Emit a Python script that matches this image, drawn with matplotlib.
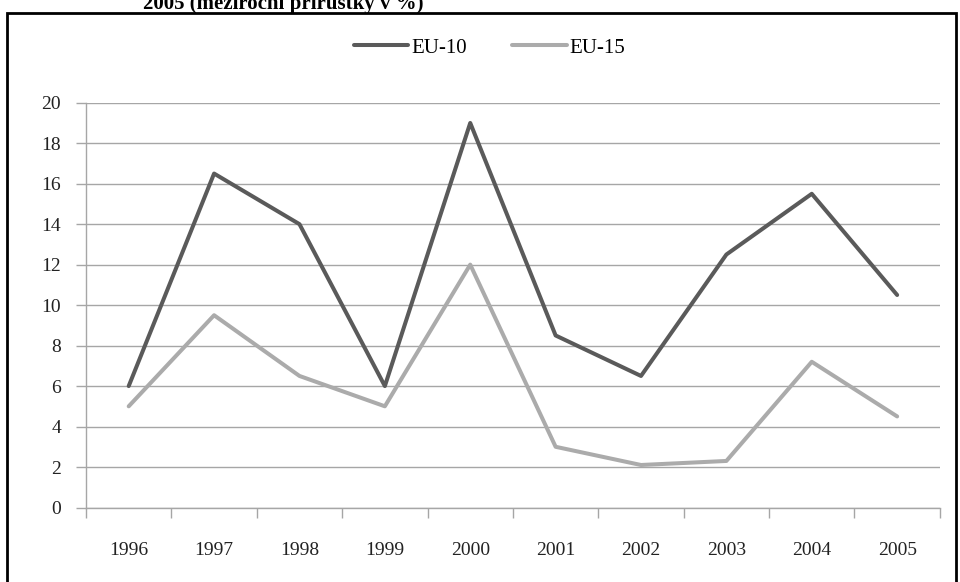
import matplotlib
matplotlib.use("Agg")
import matplotlib.pyplot as plt
from matplotlib.patches import Rectangle
import numpy as np

# Data (meziroční přírůstky v %)
years = ["1996", "1997", "1998", "1999", "2000", "2001", "2002", "2003", "2004", "2005"]
eu10 = [6.0, 16.5, 14.0, 6.0, 19.0, 8.5, 6.5, 12.5, 15.5, 10.5]
eu15 = [5.0, 9.5, 6.5, 5.0, 12.0, 3.0, 2.1, 2.3, 7.2, 4.5]

title_text = "2005 (meziroční přírůstky v %)"

serif = "Liberation Serif"
grid_col = "#a6a6a6"

fig = plt.figure(figsize=(9.6, 5.82), dpi=100)
ax = fig.add_axes([0.0896, 0.128, 0.979 - 0.0896, 0.8235 - 0.128])

x = np.arange(len(years))
ax.plot(x, eu10, color="#5a5a5a", lw=2.9, solid_capstyle="round", label="EU-10")
ax.plot(x, eu15, color="#ababab", lw=2.9, solid_capstyle="round", label="EU-15")

ax.set_xlim(-0.5, len(years) - 0.5)
ax.set_ylim(0, 20)
ax.set_yticks(range(0, 21, 2))

# labels at category centres, tick marks at category boundaries
ax.set_xticks(x)
ax.set_xticklabels(years)
ax.set_xticks(np.arange(-0.5, len(years), 1.0), minor=True)
ax.tick_params(axis="x", which="major", length=0, pad=25)
ax.tick_params(axis="x", which="minor", length=7, color=grid_col, width=1, direction="out")
ax.tick_params(axis="y", length=7, color=grid_col, width=1, direction="out", pad=11)

for lab in ax.get_xticklabels() + ax.get_yticklabels():
    lab.set_fontfamily(serif)
    lab.set_fontsize(14)
    lab.set_color("#222222")

ax.grid(axis="y", color=grid_col, lw=1)
ax.set_axisbelow(True)
for side in ["top", "right"]:
    ax.spines[side].set_visible(False)
for side in ["left", "bottom"]:
    ax.spines[side].set_color(grid_col)
    ax.spines[side].set_linewidth(1)

leg = fig.legend(loc="center", bbox_to_anchor=(0.51, 1 - 48 / 582), ncol=2,
                 frameon=False, prop={"family": serif, "size": 15},
                 handlelength=2.6, handletextpad=0.15, columnspacing=2.2)

# frame around the chart (bottom edge cut off by image)
fig.patches.append(Rectangle((7 / 960, -0.1), 949 / 960, 1.1 - 13 / 582,
                             transform=fig.transFigure, fill=False,
                             edgecolor="black", lw=2))

# title, cut off at the top of the picture as in the original scan
fig.text(143 / 960, 1 - 9 / 582, title_text, ha="left", va="baseline",
         fontfamily=serif, fontweight="bold", fontsize=15)

fig.savefig("out.png", dpi=100)
